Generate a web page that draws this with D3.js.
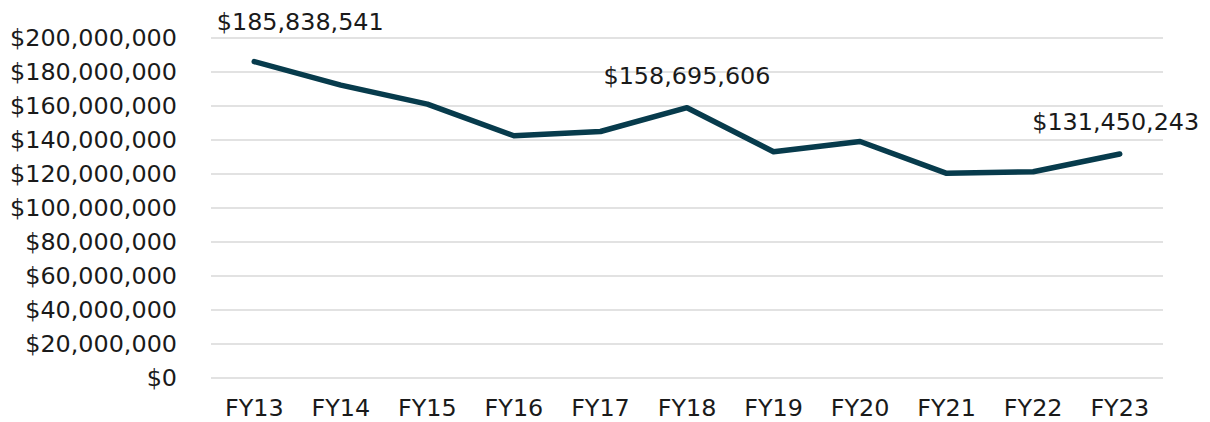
<!DOCTYPE html>
<html><head><meta charset="utf-8">
<script src="https://cdn.jsdelivr.net/npm/d3@7"></script>
<style>body{margin:0;background:#fff}svg{display:block}text{font-family:"DejaVu Sans",Verdana,sans-serif;fill:#1a1a1a}</style>
</head><body><svg id="c" width="1210" height="422"></svg>
<script>
const categories = ["FY13","FY14","FY15","FY16","FY17","FY18","FY19","FY20","FY21","FY22","FY23"];
const values = [185838541,172000000,160800000,142200000,144700000,158695606,132800000,138800000,120100000,121000000,131450243];
const yTicks = [0,20000000,40000000,60000000,80000000,100000000,120000000,140000000,160000000,180000000,200000000];
const labeled = [0,5,10];
const labelDx = {0:46, 5:0, 10:-4};
const labelDy = {0:-32, 5:-24, 10:-24};

const svg = d3.select("#c");
const x = d3.scaleBand().domain(categories).range([211,1163]);
const y = d3.scaleLinear().domain([0,200000000]).range([377.5,37.5]);
const fmt = v => "$" + d3.format(",")(v);

// fit font size so "$200,000,000" spans ~167px as in the reference
const probe = svg.append("text").style("font-size","20px").text(fmt(200000000));
const w = probe.node().getComputedTextLength();
probe.remove();
const fs = (20 * 167 / w).toFixed(2) + "px";

const gy = svg.append("g").attr("transform","translate(211,0)")
  .call(d3.axisLeft(y).tickValues(yTicks).tickFormat(fmt).tickSize(-952).tickPadding(34));
gy.select(".domain").remove();
gy.selectAll("line").attr("stroke","#d9d9d9").attr("stroke-width",1.5);
gy.selectAll("text").style("font-size",fs).attr("fill","#1a1a1a").attr("font-family",null);

const gx = svg.append("g").attr("transform","translate(0,377.5)")
  .call(d3.axisBottom(x).tickSize(0).tickPadding(22));
gx.select(".domain").remove();
gx.selectAll("text").style("font-size",fs).attr("fill","#1a1a1a").attr("font-family",null);

const cx = d => x(d) + x.bandwidth()/2;
svg.append("path").datum(values)
  .attr("fill","none").attr("stroke","#073b4c").attr("stroke-width",5.5)
  .attr("stroke-linejoin","round").attr("stroke-linecap","round")
  .attr("d", d3.line().x((d,i)=>cx(categories[i])).y(d=>y(d)));

svg.selectAll(".lbl").data(labeled).join("text").attr("class","lbl")
  .attr("x", i => cx(categories[i]) + labelDx[i])
  .attr("y", i => y(values[i]) + labelDy[i])
  .attr("text-anchor","middle").style("font-size",fs)
  .text(i => fmt(values[i]));
</script></body></html>
